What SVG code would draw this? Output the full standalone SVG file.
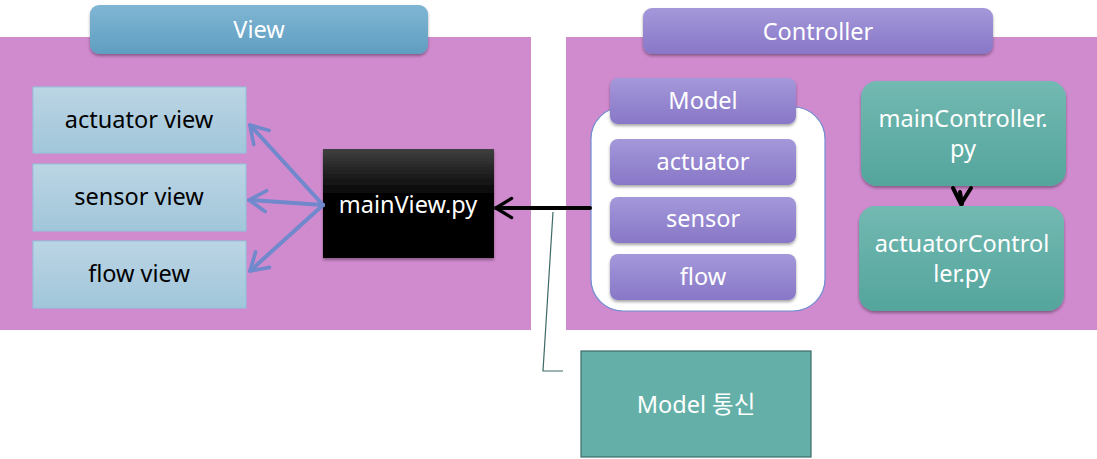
<svg xmlns="http://www.w3.org/2000/svg" width="1097" height="459" viewBox="0 0 1097 459">
<defs>
<linearGradient id="gBlue" x1="0" y1="0" x2="0" y2="1"><stop offset="0" stop-color="#80B6D4"/><stop offset="1" stop-color="#5F9EC1"/></linearGradient>
<linearGradient id="gPurple" x1="0" y1="0" x2="0" y2="1"><stop offset="0" stop-color="#A498DA"/><stop offset="1" stop-color="#8877C7"/></linearGradient>
<linearGradient id="gTeal" x1="0" y1="0" x2="0" y2="1"><stop offset="0" stop-color="#72B9B2"/><stop offset="1" stop-color="#54A59C"/></linearGradient>
<linearGradient id="gLight" x1="0" y1="0" x2="0" y2="1"><stop offset="0" stop-color="#BBD5E4"/><stop offset="1" stop-color="#A1C6DA"/></linearGradient>
<linearGradient id="gBlack" x1="0" y1="0" x2="0" y2="1"><stop offset="0" stop-color="#404040"/><stop offset="0.45" stop-color="#000"/><stop offset="1" stop-color="#000"/></linearGradient>
<filter id="sh" x="-10%" y="-10%" width="120%" height="130%"><feDropShadow dx="0" dy="2" stdDeviation="1.5" flood-color="#000" flood-opacity="0.35"/></filter>
<marker id="blueHead" viewBox="0 0 10 10" refX="9" refY="5" markerWidth="6.5" markerHeight="6.5" orient="auto" markerUnits="strokeWidth"><path d="M2.5,1 L9,5 L2.5,9" fill="none" stroke="#7088CC" stroke-width="1.4" stroke-linecap="round" stroke-linejoin="round"/></marker>
<marker id="blackHead" viewBox="0 0 10 10" refX="9" refY="5" markerWidth="6" markerHeight="6" orient="auto" markerUnits="strokeWidth"><path d="M2.5,1 L9,5 L2.5,9" fill="none" stroke="#000" stroke-width="1.4" stroke-linecap="round" stroke-linejoin="round"/></marker>
</defs>
<style>
text{font-family:"Noto Sans","Noto Sans CJK KR",sans-serif;font-size:23.5px;text-anchor:middle}
.w{fill:#fff}
.k{fill:#000}
.panel{fill:#D08ACE}
.lb{fill:url(#gLight);stroke:#8EC4DA;stroke-width:1}
.pp{fill:url(#gPurple);filter:url(#sh)}
.tl{fill:url(#gTeal);filter:url(#sh)}
.blue{stroke:#7088CC;stroke-width:4;fill:none;stroke-linecap:round}
</style>
<rect width="1097" height="459" fill="#fff"/>
<g id="viewPanel"><rect class="panel" x="0" y="37" width="531" height="293"/></g>
<g id="controllerPanel"><rect class="panel" x="566" y="37" width="531" height="293"/></g>
<g id="viewHeader"><rect x="90" y="5" width="338" height="49" rx="9" fill="url(#gBlue)" filter="url(#sh)"/><text class="w" x="259" y="38">View</text></g>
<g id="controllerHeader"><rect x="643" y="8" width="350" height="46" rx="9" class="pp"/><text class="w" x="818" y="40">Controller</text></g>
<g id="actuatorView"><rect class="lb" x="33" y="87" width="213" height="66"/><text class="k" x="139" y="128">actuator view</text></g>
<g id="sensorView"><rect class="lb" x="33" y="164" width="213" height="67"/><text class="k" x="139" y="205">sensor view</text></g>
<g id="flowView"><rect class="lb" x="33" y="241" width="213" height="67"/><text class="k" x="139" y="282">flow view</text></g>
<g id="mainView"><rect x="323" y="149" width="171" height="109" fill="url(#gBlack)" filter="url(#sh)"/><text class="w" x="408" y="213">mainView.py</text></g>
<g id="modelGroup"><rect x="591" y="107" width="234" height="204" rx="32" fill="#fff" stroke="#6F8FD0" stroke-width="1.2"/></g>
<g id="modelHeader"><rect class="pp" x="610" y="78" width="186" height="46" rx="8"/><text class="w" x="703" y="109">Model</text></g>
<g id="actuator"><rect class="pp" x="610" y="139" width="186" height="46" rx="8"/><text class="w" x="703" y="170">actuator</text></g>
<g id="sensor"><rect class="pp" x="610" y="197" width="186" height="46" rx="8"/><text class="w" x="703" y="227">sensor</text></g>
<g id="flow"><rect class="pp" x="610" y="254" width="186" height="46" rx="8"/><text class="w" x="703" y="285">flow</text></g>
<g id="mainController"><rect class="tl" x="861" y="81" width="205" height="105" rx="16"/><text class="w" x="963" y="127">mainController.</text><text class="w" x="963" y="157">py</text></g>
<g id="actuatorController"><rect class="tl" x="859" y="206" width="205" height="105" rx="16"/><text class="w" x="962" y="252">actuatorControl</text><text class="w" x="962" y="282">ler.py</text></g>
<g id="modelComm"><rect x="581" y="351" width="230" height="106" fill="#64B0A8" stroke="#3D6B66" stroke-width="1.2"/><text class="w" x="696" y="413">Model 통신</text></g>
<g id="connectors">
<line class="blue" x1="323" y1="205" x2="250" y2="125" marker-end="url(#blueHead)"/>
<line class="blue" x1="323" y1="205" x2="249" y2="200" marker-end="url(#blueHead)"/>
<line class="blue" x1="323" y1="205" x2="250" y2="271" marker-end="url(#blueHead)"/>
<line x1="590" y1="208" x2="496" y2="208" stroke="#000" stroke-width="4" stroke-linecap="round" marker-end="url(#blackHead)"/>
<path d="M953,188 L961,204 L971,188 M960,192 L962,204" fill="none" stroke="#000" stroke-width="4" stroke-linecap="round" stroke-linejoin="round"/>
<path d="M553,212 L543,371 L563,371" fill="none" stroke="#3D6B66" stroke-width="1.2"/>
</g>
</svg>
